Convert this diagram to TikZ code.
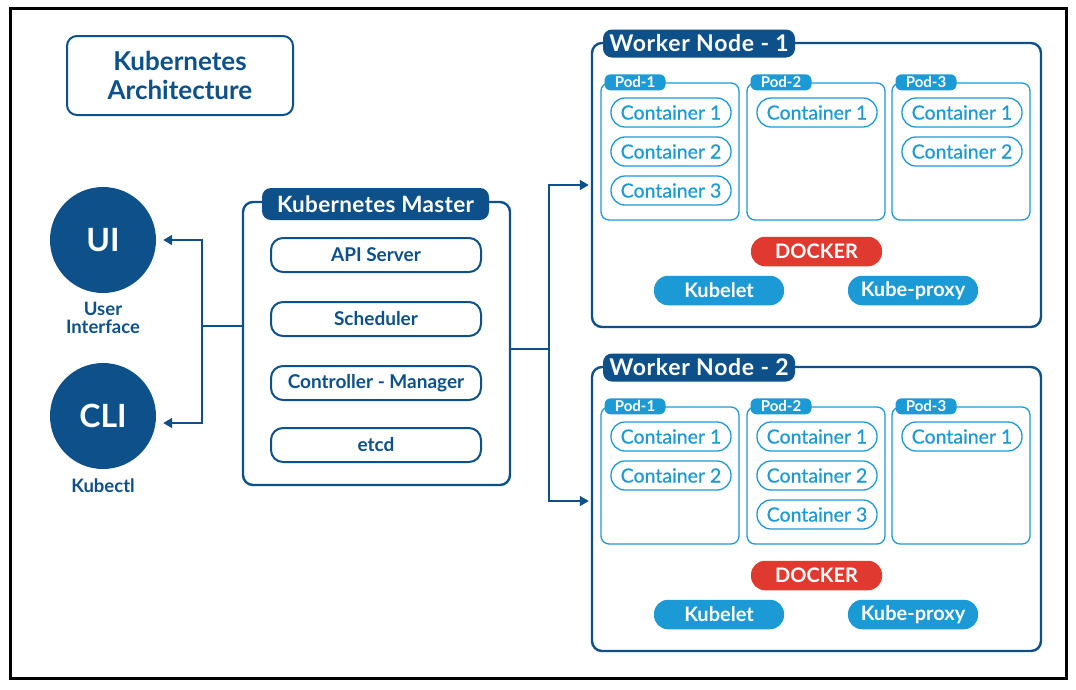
\documentclass[tikz,border=0pt]{standalone}
\usepackage{fontspec}
\setmainfont{Lato}
\newfontfamily\medfont[FakeBold=0.5]{Lato}
\usetikzlibrary{arrows.meta}
\definecolor{kdark}{HTML}{0E5089}
\definecolor{klight}{HTML}{1C9AD6}
\definecolor{kred}{HTML}{E03A30}
\newcommand{\fs}[1]{\fontsize{#1}{#1}\selectfont}
\begin{document}
\begin{tikzpicture}[x=1pt,y=-1pt,
  outer/.style={draw=kdark, line width=2.4pt, rounded corners=10pt, fill=white},
  bigtab/.style={fill=kdark, text=white, rounded corners=9pt, inner sep=0pt, font=\bfseries\fs{23}\addfontfeature{LetterSpace=3}},
  mbox/.style={draw=kdark, line width=2pt, rounded corners=12pt, minimum width=210pt, minimum height=34pt, inner sep=0pt, text=kdark, font=\bfseries\fs{19}},
  podbox/.style={draw=klight, line width=1.3pt, rounded corners=8pt, minimum width=138pt, minimum height=137pt, inner sep=0pt},
  podtab/.style={fill=klight, text=white, rounded corners=6pt, minimum width=61pt, minimum height=16pt, inner sep=0pt, font=\bfseries\fs{15}},
  cont/.style={draw=klight, line width=1.3pt, rounded corners=14pt, minimum width=120pt, minimum height=29pt, inner sep=0pt, text=klight, font=\medfont\fs{19.5}},
  pill/.style={rounded corners=14pt, minimum width=130pt, minimum height=29.5pt, inner sep=0pt, text=white, font=\bfseries\fs{20}},
  circ/.style={circle, fill=kdark, minimum size=106pt, inner sep=0pt, text=white, font=\bfseries\fs{32}},
  lbl/.style={text=kdark, font=\bfseries\fs{18.5}, align=center, inner sep=0pt},
  conn/.style={draw=kdark, line width=1.6pt},
  arr/.style={conn, -{Triangle[length=9pt,width=10pt]}}
]
\useasboundingbox (0,0) rectangle (1076,689);
\fill[white] (0,0) rectangle (1076,689);
\draw[line width=3pt] (10,8) rectangle (1066,678);

% title
\node[draw=kdark, line width=2pt, rounded corners=10pt, minimum width=226pt, minimum height=79pt,
      text=kdark, font=\bfseries\fs{26}, align=center, inner sep=0pt] (title) at (180,75.5)
      {Kubernetes\\[3pt]Architecture};

% clients
\node[circ] (ui) at (103,240) {UI};
\node[lbl] (uil) at (103,318) {User\\[0pt]Interface};
\node[circ] (cli) at (103,416) {CLI};
\node[lbl] (clil) at (103,486) {Kubectl};

% master
\node[outer, minimum width=267pt, minimum height=283pt] (master) at (376.5,343.5) {};
\node[bigtab, minimum width=227pt, minimum height=32pt, font=\bfseries\fs{22.5}\addfontfeature{LetterSpace=1.5}] (mtab) at (375.5,204) {Kubernetes Master};
\node[mbox] (api) at (376,255) {API Server};
\node[mbox] (sch) at (376,319) {Scheduler};
\node[mbox] (ctl) at (376,383) {Controller - Manager};
\node[mbox] (etcd) at (376,445) {etcd};

% workers
\foreach \w/\dy/\na/\nb/\nc in {1/0/3/1/2,2/324/2/3/1}{
  \begin{scope}[yshift={-\dy pt}]
    \node[outer, minimum width=449pt, minimum height=284pt] (wn\w) at (816.5,185) {};
    \node[bigtab, minimum width=192pt, minimum height=28pt] (wt\w) at (699,43.5) {Worker Node - \w};
    \foreach \p/\px/\n in {1/670/\na,2/816/\nb,3/961/\nc}{
      \node[podbox] (p\w\p) at (\px,151.5) {};
      \node[podtab, anchor=west] (pt\w\p) at ([xshift=4pt]p\w\p.north west) {Pod-\p};
      \foreach \c/\cy in {1/112.5,2/151.5,3/190.5}{
        \ifnum\c>\n\relax\else
          \node[cont] (c\w\p\c) at (\px+1,\cy) {Container \c};
        \fi
      }
    }
    \node[pill, fill=kred, minimum width=131pt] (dock\w) at (816.5,251.5) {DOCKER};
    \node[pill, fill=klight] (kl\w) at (719,290.5) {Kubelet};
    \node[pill, fill=klight] (kp\w) at (913,290.5) {Kube-proxy};
  \end{scope}
}

% connectors left
\coordinate (jl) at (202,326);
\draw[conn] (master.west |- jl) -- (jl);
\draw[arr, shorten >=7pt] (jl) |- (ui.east);
\draw[arr, shorten >=7pt] (jl) |- ([yshift=-7pt]cli.east);

% connectors right
\coordinate (jr) at (549,349);
\draw[conn] (master.east |- jr) -- (jr);
\draw[arr, shorten >=2pt] (jr) |- (wn1.west);
\draw[arr, shorten >=2pt] (jr) |- ([yshift=8pt]wn2.west);
\end{tikzpicture}
\end{document}
